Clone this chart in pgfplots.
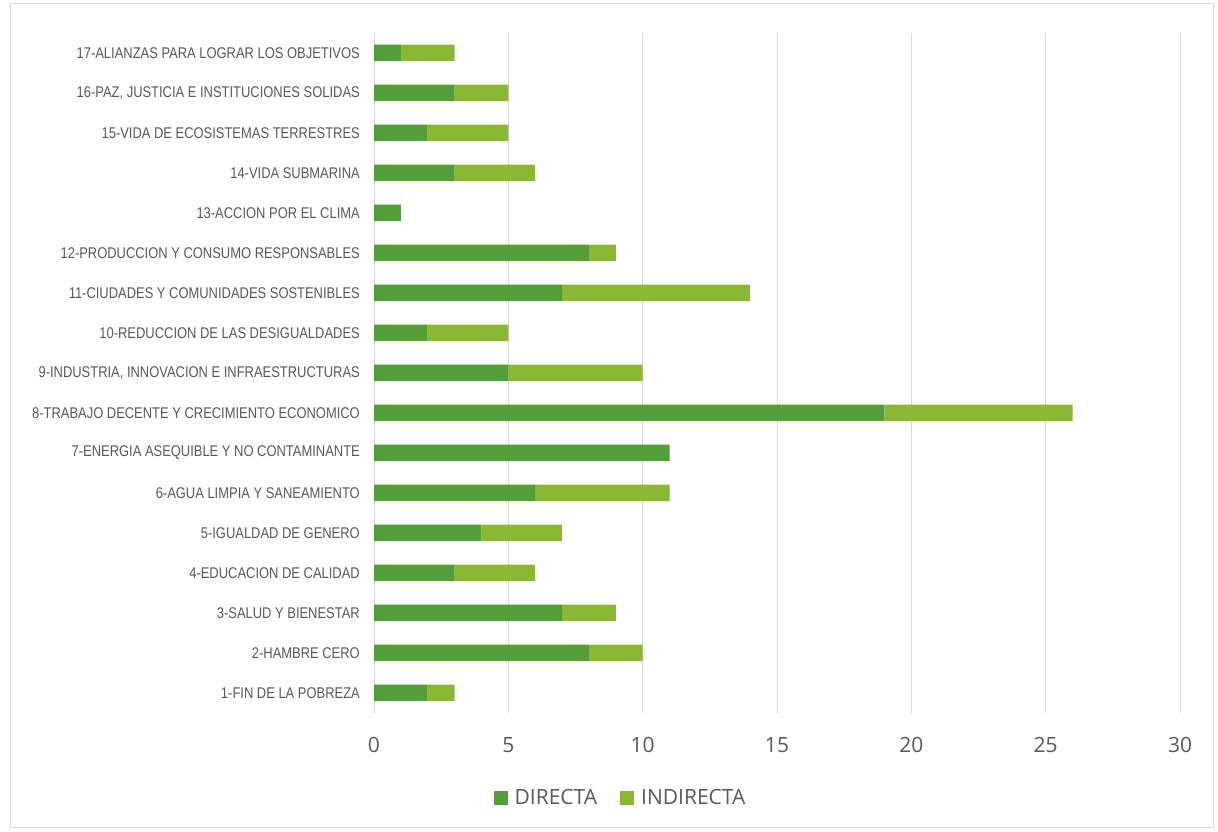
\documentclass[border=0pt]{standalone}
\usepackage{fontspec}
\usepackage{pgfplots}
\pgfplotsset{compat=1.18}
\newfontfamily\catfont{Liberation Sans}[FakeStretch=0.835]
\newfontfamily\tickfont{Open Sans}
\definecolor{dir}{HTML}{549E39}
\definecolor{ind}{HTML}{8AB833}
\definecolor{gridc}{HTML}{D9D9D9}
\definecolor{txt}{HTML}{595959}
\begin{document}
\begin{tikzpicture}[x=1pt,y=1pt]
\useasboundingbox (0,0) rectangle (1218,832);
\fill[white] (0,0) rectangle (1218,832);
\draw[color=gridc, line width=1pt] (10.5,4) rectangle (1213,828);
\begin{axis}[
  at={(374pt,119pt)}, anchor=south west,
  scale only axis, width=806pt, height=680pt,
  xmin=0, xmax=30, ymin=0.5, ymax=17.5,
  xbar stacked, bar width=16.5pt,
  axis line style={draw=none},
  major tick length=0pt,
  xtick={0,5,...,30},
  xmajorgrids, grid style={color=gridc, line width=1pt},
  ytick={1,...,17},
  yticklabels={1-FIN DE LA POBREZA,2-HAMBRE CERO,3-SALUD Y BIENESTAR,4-EDUCACION DE CALIDAD,5-IGUALDAD DE GENERO,6-AGUA LIMPIA Y SANEAMIENTO,7-ENERGIA ASEQUIBLE Y NO CONTAMINANTE,8-TRABAJO DECENTE Y CRECIMIENTO ECONOMICO,{9-INDUSTRIA, INNOVACION E INFRAESTRUCTURAS},10-REDUCCION DE LAS DESIGUALDADES,11-CIUDADES Y COMUNIDADES SOSTENIBLES,12-PRODUCCION Y CONSUMO RESPONSABLES,13-ACCION POR EL CLIMA,14-VIDA SUBMARINA,15-VIDA DE ECOSISTEMAS TERRESTRES,{16-PAZ, JUSTICIA E INSTITUCIONES SOLIDAS},17-ALIANZAS PARA LOGRAR LOS OBJETIVOS},
  yticklabel style={font=\catfont\fontsize{15.5}{18}\selectfont, text=txt, inner sep=0pt, xshift=-14pt},
  /pgf/number format/assume math mode=true,
  xticklabel style={font=\tickfont\fontsize{21}{24}\selectfont, text=txt, inner sep=0pt, yshift=-24pt},
  legend columns=2,
  legend style={at={(0.3046,-0.125)}, anchor=center, draw=none, fill=none,
    font=\tickfont\fontsize{21}{24}\selectfont, text=txt,
    nodes={inner xsep=0pt},
    /tikz/every odd column/.append style={column sep=7pt},
    /tikz/every even column/.append style={column sep=23pt}},
]
\addplot[fill=dir, draw=none, legend image code/.code={\fill[dir] (0pt,-7pt) rectangle (14pt,7pt);}] coordinates {
(2,1) (8,2) (7,3) (3,4) (4,5) (6,6) (11,7) (19,8) (5,9) (2,10) (7,11) (8,12) (1,13) (3,14) (2,15) (3,16) (1,17)};
\addplot[fill=ind, draw=none, legend image code/.code={\fill[ind] (0pt,-7pt) rectangle (14pt,7pt);}] coordinates {
(1,1) (2,2) (2,3) (3,4) (3,5) (5,6) (0,7) (7,8) (5,9) (3,10) (7,11) (1,12) (0,13) (3,14) (3,15) (2,16) (2,17)};
\legend{DIRECTA,INDIRECTA}
\end{axis}
\end{tikzpicture}
\end{document}
